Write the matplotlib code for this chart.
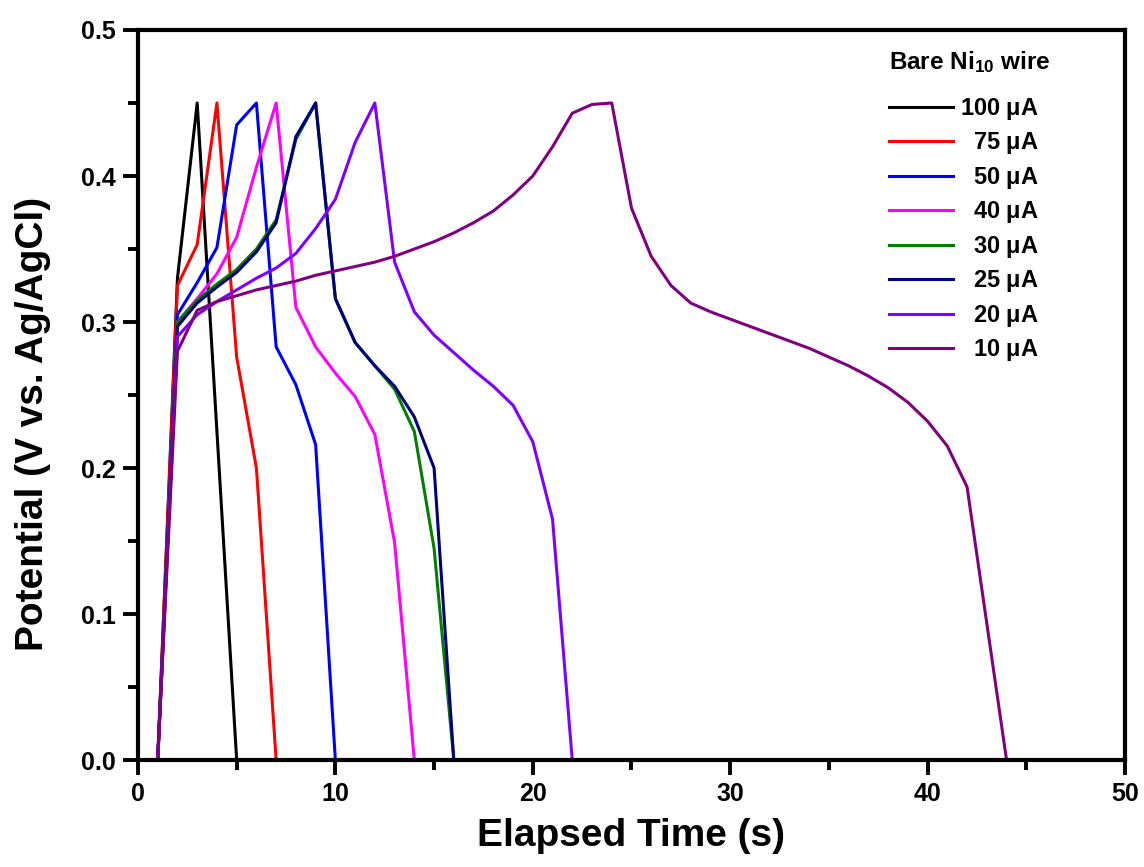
import matplotlib
matplotlib.use('Agg')
import matplotlib.pyplot as plt
from matplotlib.ticker import MultipleLocator

plt.rcParams['font.family'] = ['Liberation Sans', 'DejaVu Sans']
plt.rcParams['font.weight'] = 'bold'
plt.rcParams['mathtext.default'] = 'regular'

# galvanostatic charge/discharge, one sample per second
t100 = [1, 2, 3, 4, 5]
v100 = [0.0, 0.33, 0.45, 0.225, 0.0]

t75 = [1, 2, 3, 4, 5, 6, 7]
v75 = [0.0, 0.325, 0.353, 0.45, 0.276, 0.2, 0.0]

t50 = [1, 2, 3, 4, 5, 6, 7, 8, 9, 10]
v50 = [0.0, 0.305, 0.327, 0.351, 0.435, 0.45, 0.283, 0.257, 0.216, 0.0]

t40 = [1, 2, 3, 4, 5, 6, 7, 8, 9, 10, 11, 12, 13, 14]
v40 = [0.0, 0.3, 0.316, 0.333, 0.358, 0.406, 0.45, 0.31, 0.283, 0.265, 0.249, 0.223, 0.149, 0.0]

t30 = [1, 2, 3, 4, 5, 6, 7, 8, 9, 10, 11, 12, 13, 14, 15, 16]
v30 = [0.0, 0.3, 0.315, 0.326, 0.336, 0.35, 0.37, 0.425, 0.45, 0.316, 0.286, 0.27, 0.254, 0.225, 0.145, 0.0]

t25 = [1, 2, 3, 4, 5, 6, 7, 8, 9, 10, 11, 12, 13, 14, 15, 16]
v25 = [0.0, 0.297, 0.313, 0.324, 0.334, 0.348, 0.368, 0.427, 0.45, 0.316, 0.286, 0.27, 0.256, 0.235, 0.2, 0.0]

t20 = [1, 2, 3, 4, 5, 6, 7, 8, 9, 10, 11, 12, 13, 14, 15, 16, 17, 18, 19, 20, 21, 22]
v20 = [0.0, 0.29, 0.305, 0.314, 0.322, 0.33, 0.337, 0.347, 0.364, 0.384, 0.423, 0.45,
       0.341, 0.307, 0.291, 0.279, 0.267, 0.256, 0.243, 0.218, 0.165, 0.0]

t10 = [1, 2, 3, 4, 5, 6, 7, 8, 9, 10, 11, 12, 13, 14, 15, 16, 17, 18, 19, 20, 21, 22,
       23, 24, 25, 26, 27, 28, 29, 30, 31, 32, 33, 34, 35, 36, 37, 38, 39, 40, 41, 42, 44]
v10 = [0.0, 0.28, 0.308, 0.314, 0.318, 0.322, 0.325, 0.328, 0.332, 0.335, 0.338, 0.341,
       0.345, 0.35, 0.355, 0.361, 0.368, 0.376, 0.387, 0.4, 0.42, 0.443, 0.449, 0.45,
       0.378, 0.345, 0.325, 0.313, 0.307, 0.302, 0.297, 0.292, 0.287, 0.282, 0.276, 0.27,
       0.263, 0.255, 0.245, 0.232, 0.215, 0.187, 0.0]

series = [
    (t100, v100, '100 $\\mu$A', 'black'),
    (t75, v75, '  75 $\\mu$A', '#ff0000'),
    (t50, v50, '  50 $\\mu$A', '#0000ff'),
    (t40, v40, '  40 $\\mu$A', '#ff00ff'),
    (t30, v30, '  30 $\\mu$A', '#008000'),
    (t25, v25, '  25 $\\mu$A', '#000080'),
    (t20, v20, '  20 $\\mu$A', '#8000ff'),
    (t10, v10, '  10 $\\mu$A', '#800080'),
]

fig = plt.figure(figsize=(11.44, 8.67), dpi=100)
ax = fig.add_axes([0.1206, 0.1234, 0.8628, 0.842])

for t, v, lab, col in series:
    ax.plot(t, v, color=col, lw=2.2, label=lab)

ax.set_xlim(0, 50)
ax.set_ylim(0, 0.5)
ax.xaxis.set_major_locator(MultipleLocator(10))
ax.xaxis.set_minor_locator(MultipleLocator(5))
ax.yaxis.set_major_locator(MultipleLocator(0.1))
ax.yaxis.set_minor_locator(MultipleLocator(0.05))
ax.tick_params(which='major', direction='out', length=11, width=2.8, labelsize=18, pad=5)
ax.tick_params(which='minor', direction='out', length=7, width=2.8)
ax.tick_params(top=False, right=False, which='both')
for sp in ax.spines.values():
    sp.set_linewidth(3.0)

ax.set_xlabel('Elapsed Time (s)', fontsize=28, fontweight='bold')
ax.set_ylabel('Potential (V vs. Ag/AgCl)', fontsize=28, fontweight='bold')
ax.xaxis.set_label_coords(0.5, -0.079)
ax.yaxis.set_label_coords(-0.088, 0.46)

leg = ax.legend(loc='upper left', bbox_to_anchor=(0.749, 0.99), frameon=False,
                fontsize=17, title='Bare Ni$_{10}$ wire',
                title_fontproperties={'size': 17.5, 'weight': 'bold'},
                borderpad=0, handlelength=2.7, labelspacing=0.36, handletextpad=0.3)
leg._legend_box.align = 'left'
leg._legend_box.sep = 15
for txt in leg.get_texts():
    txt.set_fontweight('bold')

fig.savefig('out.png', dpi=100)
